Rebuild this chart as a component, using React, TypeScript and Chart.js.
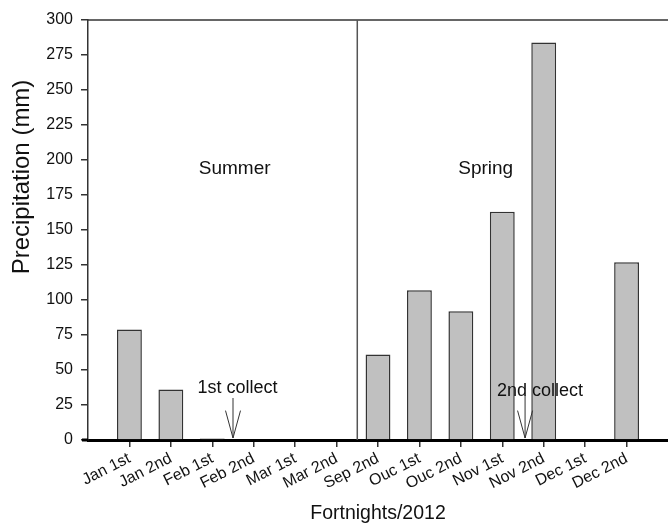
import React, { useEffect, useRef } from "react";
import { Chart, registerables } from "chart.js";

Chart.register(...registerables);

// ---- data ----
const categories = [
  "Jan 1st", "Jan 2nd", "Feb 1st", "Feb 2nd", "Mar 1st", "Mar 2nd",
  "Sep 2nd", "Ouc 1st", "Ouc 2nd", "Nov 1st", "Nov 2nd", "Dec 1st", "Dec 2nd",
];
const precipitation = [79, 36, 1, 0, 0, 0, 61, 107, 92, 163, 284, 0, 127];
const yMin = 0;
const yMax = 300;
const yStep = 25;
const xTitle = "Fortnights/2012";
const yTitle = "Precipitation (mm)";
const seasonNames = ["Summer", "Spring"];
const collectNames = ["1st collect", "2nd collect"];

// annotation anchors (in axis units; x = padded category index)
const seasonAnchorX = [3.54, 9.6];
const seasonAnchorY = [194, 194];
const dividerX = 6.5;
const collectTextX = [3.61, 10.91];
const collectTextY = [37, 35];
const collectArrowX = [3.5, 10.55];
const collectArrowTop = [30, 32];
const collectHeadTop = [21, 21];

const FONT = "'Liberation Sans', Arial, sans-serif";

const paddedLabels = ["", ...categories, ""];
const paddedData: (number | null)[] = [null, ...precipitation, null];

const annotationPlugin = {
  id: "annotationPlugin",
  afterDatasetsDraw(chart: any) {
    const { ctx, chartArea, scales } = chart;
    const x = scales.x;
    const y = scales.y;
    ctx.save();
    // top frame line
    ctx.strokeStyle = "#333";
    ctx.lineWidth = 1.5;
    ctx.beginPath();
    ctx.moveTo(chartArea.left, chartArea.top);
    ctx.lineTo(chartArea.right, chartArea.top);
    ctx.stroke();

    // season divider
    const dx = x.getPixelForValue(dividerX);
    ctx.strokeStyle = "#555";
    ctx.lineWidth = 1.5;
    ctx.beginPath();
    ctx.moveTo(dx, chartArea.top);
    ctx.lineTo(dx, chartArea.bottom);
    ctx.stroke();

    // season labels
    ctx.fillStyle = "#111";
    ctx.textAlign = "center";
    ctx.textBaseline = "middle";
    ctx.font = `19px ${FONT}`;
    seasonNames.forEach((t, i) => {
      ctx.fillText(t, x.getPixelForValue(seasonAnchorX[i]), y.getPixelForValue(seasonAnchorY[i]));
    });

    // collect labels + arrows
    ctx.font = `18px ${FONT}`;
    collectNames.forEach((t, i) => {
      ctx.fillStyle = "#111";
      ctx.fillText(t, x.getPixelForValue(collectTextX[i]), y.getPixelForValue(collectTextY[i]));
      const ax = x.getPixelForValue(collectArrowX[i]);
      const top = y.getPixelForValue(collectArrowTop[i]);
      const tip = y.getPixelForValue(0) - 2;
      const head = y.getPixelForValue(collectHeadTop[i]);
      ctx.strokeStyle = "#333";
      ctx.lineWidth = 1;
      ctx.beginPath();
      ctx.moveTo(ax, top);
      ctx.lineTo(ax, tip);
      ctx.moveTo(ax - 7.5, head);
      ctx.lineTo(ax, tip);
      ctx.lineTo(ax + 7.5, head);
      ctx.stroke();
    });

    // bottom axis extension under the zero tick
    ctx.strokeStyle = "#000";
    ctx.lineWidth = 3;
    ctx.beginPath();
    ctx.moveTo(chartArea.left - 6, chartArea.bottom);
    ctx.lineTo(chartArea.left, chartArea.bottom);
    ctx.stroke();

    // y axis title
    ctx.save();
    ctx.translate(22, 177);
    ctx.rotate(-Math.PI / 2);
    ctx.fillStyle = "#111";
    ctx.font = `24px ${FONT}`;
    ctx.textAlign = "center";
    ctx.textBaseline = "middle";
    ctx.fillText(yTitle, 0, 0);
    ctx.restore();

    ctx.restore();
  },
};

export default function App() {
  const canvasRef = useRef<HTMLCanvasElement | null>(null);

  useEffect(() => {
    document.body.style.margin = "0";
    const canvas = canvasRef.current;
    if (!canvas) return;
    const chart = new Chart(canvas, {
      type: "bar",
      data: {
        labels: paddedLabels,
        datasets: [
          {
            label: "Precipitation",
            data: paddedData,
            backgroundColor: "#c0c0c0",
            borderColor: "#333",
            borderWidth: 1.5,
            barPercentage: 0.6,
            categoryPercentage: 1,
          },
        ],
      },
      options: {
        animation: false,
        responsive: true,
        maintainAspectRatio: false,
        layout: { padding: { top: 20, left: 0, right: 0, bottom: 0 } },
        plugins: {
          legend: { display: false },
          tooltip: { enabled: false },
        },
        scales: {
          x: {
            type: "category",
            offset: false,
            grid: {
              display: true,
              offset: false,
              drawOnChartArea: false,
              drawTicks: true,
              tickLength: 7,
              color: "#333",
              lineWidth: 1.5,
            },
            border: { display: true, color: "#000", width: 3 },
            ticks: {
              autoSkip: false,
              minRotation: 27,
              maxRotation: 27,
              padding: 2,
              color: "#111",
              font: { family: FONT, size: 16 },
              callback: (_v: any, i: number) => (paddedLabels[i] ? paddedLabels[i] : null),
            },
            title: {
              display: true,
              text: xTitle,
              color: "#111",
              font: { family: FONT, size: 19.5 },
              padding: { top: 0, bottom: 0 },
            },
            afterFit: (scale: any) => {
              scale.height = 85;
            },
          },
          y: {
            min: yMin,
            max: yMax,
            grid: {
              display: true,
              drawOnChartArea: false,
              drawTicks: true,
              tickLength: 7,
              color: "#333",
              lineWidth: 1.5,
            },
            border: { display: true, color: "#333", width: 1.5 },
            ticks: {
              stepSize: yStep,
              padding: 8,
              color: "#111",
              font: { family: FONT, size: 16 },
            },
            afterFit: (scale: any) => {
              scale.width = 88;
            },
          },
        },
      },
      plugins: [annotationPlugin],
    });
    return () => chart.destroy();
  }, []);

  return (
    <div style={{ width: 668, height: 525, position: "relative" }}>
      <canvas ref={canvasRef} />
    </div>
  );
}
